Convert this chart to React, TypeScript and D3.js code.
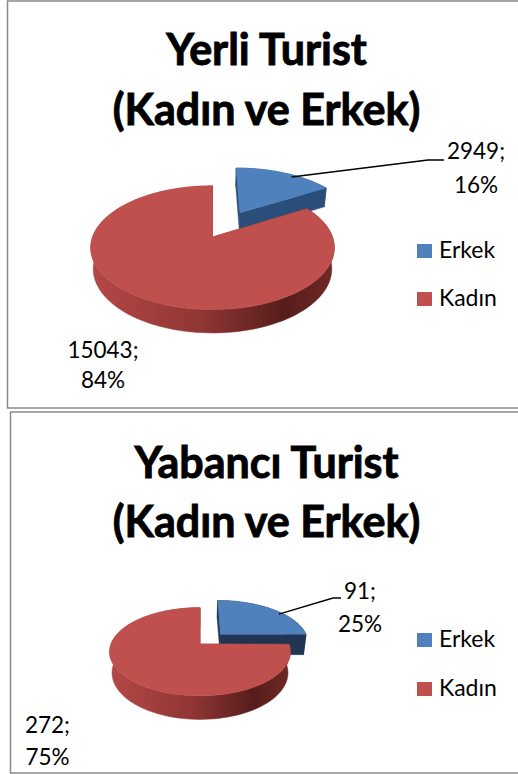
import React from "react";
import * as d3 from "d3";

const categories = ["Erkek", "Kadın"];
const titleLine2 = "(Kadın ve Erkek)";
const yerliTitle = "Yerli Turist";
const yerliValues = [2949, 15043];
const yabanciTitle = "Yabancı Turist";
const yabanciValues = [91, 272];

const topColors = ["#4F81BD", "#C0504D"];
const legendColors = ["#4F81BD", "#C0504D"];

type Cfg = {
  id: string;
  title: string;
  values: number[];
  panel: { x: number; y: number; h: number };
  titleY: [number, number];
  cx: number;
  cy: number;
  k: number;
  sin: number;
  D: number;
  h: number;
  explode: number;
  labelErkek: { x: number; y: [number, number] };
  labelKadin: { x: number; y: [number, number] };
  elbow: [number, number];
  lineEnd: number;
  legendY: [number, number];
  blueSide: string;
};

const charts: Cfg[] = [
  {
    id: "yerli",
    title: yerliTitle,
    values: yerliValues,
    panel: { x: 7.5, y: 1, h: 407 },
    titleY: [65, 125],
    cx: 212.5,
    cy: 237,
    k: 120,
    sin: 0.5,
    D: 5,
    h: 0.205,
    explode: 0.5,
    labelErkek: { x: 476, y: [159, 193] },
    labelKadin: { x: 103, y: [358, 388] },
    elbow: [428, 160],
    lineEnd: 444,
    legendY: [258, 306],
    blueSide: "#2B4D7A",
  },
  {
    id: "yabanci",
    title: yabanciTitle,
    values: yabanciValues,
    panel: { x: 10.5, y: 412, h: 361 },
    titleY: [478, 537],
    cx: 200,
    cy: 644,
    k: 89,
    sin: 0.48,
    D: 5,
    h: 0.275,
    explode: 0.34,
    labelErkek: { x: 360, y: [599, 632] },
    labelKadin: { x: 47.5, y: [733, 765] },
    elbow: [333, 598],
    lineEnd: 341,
    legendY: [647, 696],
    blueSide: "#1F3553",
  },
];

const pctFmt = d3.format(".0%");
const line = d3.line<[number, number]>().curve(d3.curveLinearClosed);
const openLine = d3.line<[number, number]>();

function PieChart({ c }: { c: Cfg }) {
  const cos = Math.sqrt(1 - c.sin * c.sin);
  const project = (X: number, Y: number, Z: number): [number, number] => {
    const v = Z * c.sin + Y * cos;
    const w = Z * cos - Y * c.sin;
    const s = c.D / (c.D + w);
    return [c.cx + c.k * X * s, c.cy - c.k * v * s];
  };
  const total = d3.sum(c.values);
  const arcs = d3.pie<number>().sort(null)(c.values);
  const N = 90;

  const slices = arcs.map((a, i) => {
    const mid = (a.startAngle + a.endAngle) / 2;
    const e = i === 0 ? c.explode : 0;
    const ox = e * Math.sin(mid);
    const oz = e * Math.cos(mid);
    const pt = (t: number, r: number, Y: number) =>
      project(ox + r * Math.sin(t), Y, oz + r * Math.cos(t));
    const ts = d3.range(N + 1).map((j) => a.startAngle + ((a.endAngle - a.startAngle) * j) / N);
    const topArc = ts.map((t) => pt(t, 1, 0));
    const botArc = ts.map((t) => pt(t, 1, -c.h)).reverse();
    const topFace = line([pt(0, 0, 0), ...topArc]);
    const rim = line([...topArc, ...botArc]);
    const radial = [a.startAngle, a.endAngle].map((t) =>
      line([pt(t, 0, 0), pt(t, 1, 0), pt(t, 1, -c.h), pt(t, 0, -c.h)])
    );
    const lt = a.startAngle + 0.6 * (a.endAngle - a.startAngle);
    const leaderStart = pt(lt, 0.95, 0);
    return { a, i, topFace, rim, radial, leaderStart };
  });

  const redGrad = `redSide-${c.id}`;
  const blueGrad = `blueSide-${c.id}`;
  const order = [0, 1];
  const fontLabel = "Lato, 'Open Sans', sans-serif";

  return (
    <g>
      <defs>
        <linearGradient id={redGrad} gradientUnits="userSpaceOnUse" x1={c.cx - c.k} x2={c.cx + c.k} y1={0} y2={0}>
          <stop offset="0" stopColor="#B24846" />
          <stop offset="0.45" stopColor="#903634" />
          <stop offset="0.8" stopColor="#561D1C" />
          <stop offset="1" stopColor="#6E2926" />
        </linearGradient>
        <linearGradient id={blueGrad} gradientUnits="userSpaceOnUse" x1={c.cx} x2={c.cx + c.k * 1.3} y1={0} y2={0}>
          <stop offset="0" stopColor={c.blueSide} />
          <stop offset="1" stopColor={d3.color(c.blueSide)!.darker(0.3).formatHex()} />
        </linearGradient>
      </defs>
      <rect
        x={c.panel.x}
        y={c.panel.y}
        width={700}
        height={c.panel.h}
        fill="#fff"
        stroke="#8A8A8A"
        strokeWidth={1.5}
      />
      {[c.title, titleLine2].map((t, i) => (
        <text
          key={i}
          x={266.5}
          y={c.titleY[i]}
          textAnchor="middle"
          fontFamily={fontLabel}
          fontWeight="bold"
          fontSize={43}
          fill="#000"
          stroke="#000"
          strokeWidth={0.9}
        >
          {t}
        </text>
      ))}
      {order.map((idx) => {
        const s = slices[idx];
        const side = idx === 0 ? `url(#${blueGrad})` : `url(#${redGrad})`;
        const radialFill = idx === 0 ? c.blueSide : "#7A2C2A";
        return (
          <g key={idx}>
            <path d={s.rim!} fill={side} stroke={side} strokeWidth={0.5} />
            {s.radial.map((d, j) => (
              <path key={j} d={d!} fill={radialFill} stroke={radialFill} strokeWidth={0.5} />
            ))}
            <path d={s.topFace!} fill={topColors[idx]} stroke={topColors[idx]} strokeWidth={0.5} />
          </g>
        );
      })}
      <path
        d={openLine([slices[0].leaderStart, c.elbow, [c.lineEnd, c.elbow[1]]])!}
        fill="none"
        stroke="#000"
        strokeWidth={1.5}
      />
      {[c.labelErkek, c.labelKadin].map((lp, i) => (
        <g key={i} fontFamily={fontLabel} fontSize={22.5} fill="#000" textAnchor="middle">
          <text x={lp.x} y={lp.y[0]}>{`${c.values[i]};`}</text>
          <text x={lp.x} y={lp.y[1]}>{pctFmt(c.values[i] / total)}</text>
        </g>
      ))}
      {categories.map((cat, i) => (
        <g key={cat}>
          <rect x={417} y={c.legendY[i] - 14} width={15} height={14} fill={legendColors[i]} />
          <text x={439} y={c.legendY[i]} fontFamily={fontLabel} fontSize={23} fill="#000">
            {cat}
          </text>
        </g>
      ))}
    </g>
  );
}

export default function App() {
  return (
    <svg
      width={518}
      height={774}
      style={{ position: "absolute", left: 0, top: 0, background: "#fff" }}
    >
      <rect x={0} y={0} width={518} height={774} fill="#fff" />
      {charts.map((c) => (
        <PieChart key={c.id} c={c} />
      ))}
    </svg>
  );
}
